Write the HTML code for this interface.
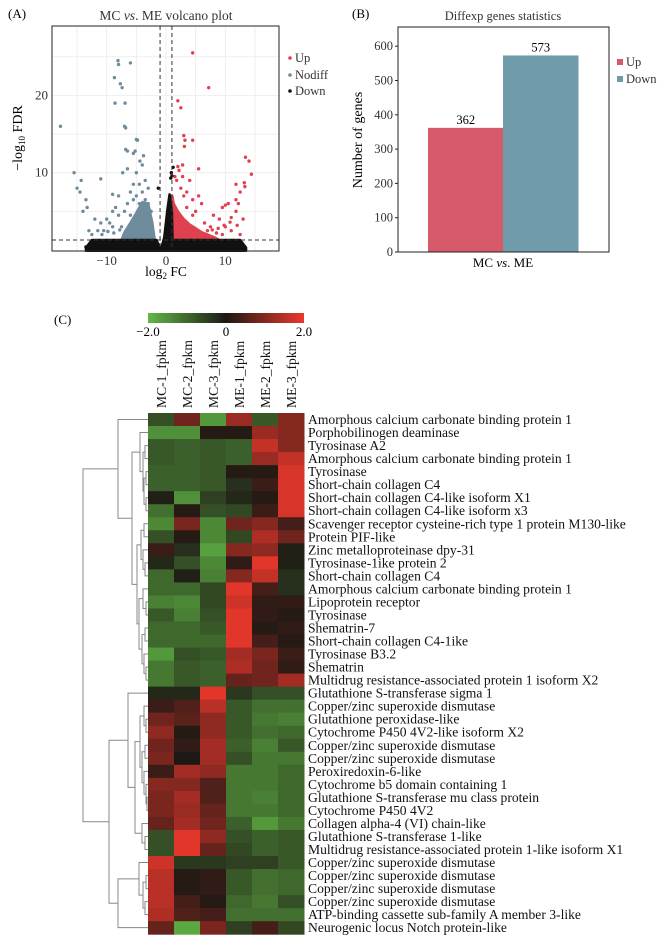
<!DOCTYPE html>
<html><head><meta charset="utf-8"><style>
html,body{margin:0;padding:0;background:#fff;}
svg{display:block;font-family:"Liberation Serif",serif;}
</style></head><body>
<svg id="fig" width="668" height="943" viewBox="0 0 668 943" xmlns="http://www.w3.org/2000/svg">
<text x="8" y="18" font-size="13">(A)</text>
<text x="352" y="18" font-size="13">(B)</text>
<text x="54" y="324" font-size="13">(C)</text>
<g id="volcano"></g>
<g id="bars"></g>
<g id="heat"></g>
</svg>
<script>
// ---------- Volcano data ----------
const upX=[4.5,7.2,2,2.5,3,4.5,3.2,3.1,5.5,2.8,2,2.2,1.5,1.8,13.4,14,14.4,13.2,13.3,11.8,12.5,11.8,12.2,9.5,10,10.5,11.8,11,13,8,9,10,6.5,7.5,5.5,6,4.5,3.5,2.5,3,7,8.5,11,12.5,9.5,6,4,2.8,3.5,5,4.5,9.8,10.8,12,8.8,7.8];
const upY=[25.5,21,19.3,18.4,14.8,14.2,14.2,13.4,10.5,11,10.8,10.3,9.5,9,12,11.5,9.8,8.7,8.2,8.5,7.5,6.5,6,5.5,5.8,6,5,4.2,4,4.5,4,3,3.5,3,7,6,6.5,7.5,8,7,2.5,2.2,2.5,2,2,2.2,9,9.5,5.5,5,4.5,3.2,3.6,3.2,2.8,2.6];
const ndX=[-17.8,-15.5,-15,-14.3,-14.5,-13.5,-14,-13.3,-11,-8.1,-8,-6,-8.7,-7.7,-7.4,-8.6,-6.9,-7,-6.8,-5,-4.8,-6.8,-6.5,-5.5,-5.2,-3.8,-6.5,-7.3,-5,-4.4,-4,-9,-8,-6,-5.5,-4.5,-3.5,-3,-12,-11,-10,-9.5,-9,-8.5,-13,-12.5,-11.5,-10.5,-9,-8,-7.5,-7,-6.5,-6,-5.5,-5,-4.5,-4,-3.5,-3,-2.5,-10.8,-9.8,-8.8,-7.8];
const ndY=[16,10,8,9,7.5,6.5,5,5.5,9.2,24.5,24,24.2,22.3,21.5,21,19,19,16,15.8,14.3,14.2,13,12.8,12.5,12.8,12.2,10.5,10,10,11.5,11,7.2,7,7.5,8.5,8.5,9,8,4,3.5,4,3.5,5,5.5,2.5,2,2.5,2.5,3,4.5,3,5,6,4.5,6.5,7,6,7.5,6.5,6,5,2,2.4,2.2,2.6];
const dnX=[1.2,1,0.8,-1.3,0.9,-13.5,13,-12.5,12.8];
const dnY=[10.7,9.6,9.3,8,10,0.4,0.3,0.8,0.9];
// dense-region envelopes
const ndEnvX=[-7.5,-7,-6,-5,-4,-3,-2.3,-1.9];
const ndEnvTop=[1.3,2.3,3.5,4.8,6.2,6.0,3.5,1.3];
const upEnvX=[1.05,1.3,2,3,4,5,6,8,9];
const upEnvTop=[7,6.0,5.0,4.0,3.3,2.8,2.3,1.7,1.3];
const dnEnvX=[-13.5,-12.5,-1.6,-0.9,-0.3,0.2,0.6,1,1.1,12.5,13.5];
const dnEnvTop=[0.3,1.3,1.3,0,1.6,5,7.2,5,1.3,1.3,0.3];
const vXTicks=[-10,0,10], vYTicks=[10,20];
const vXMinor=[-15,-5,5,15], vYMinor=[5,15,25];

const NS="http://www.w3.org/2000/svg";
function mk(tag,attrs,parent){const e=document.createElementNS(NS,tag);for(const k in attrs)e.setAttribute(k,attrs[k]);parent.appendChild(e);return e;}

(function(){
const g=document.getElementById('volcano');
const L=52,R=279,T=26,B=251;
const xs=v=>166+v*5.93, ys=v=>250-v*7.73;
let r=mk('rect',{x:L,y:T,width:R-L,height:B-T,fill:'#fff'},g);


vXMinor.concat(vXTicks).forEach(v=>{let l=mk('line',{x1:xs(v),x2:xs(v),y1:T,y2:B,stroke:'#ebebeb','stroke-width':0.8},g);});
vYMinor.concat(vYTicks).forEach(v=>{let l=mk('line',{x1:L,x2:R,y1:ys(v),y2:ys(v),stroke:'#ebebeb','stroke-width':0.8},g);});
function area(xa,ya,base,col,name){let d='M'+xs(xa[0])+','+ys(base);xa.forEach((x,i)=>d+=' L'+xs(x)+','+ys(ya[i]));d+=' L'+xs(xa[xa.length-1])+','+ys(base)+'Z';
let p=mk('path',{d:d,fill:col,stroke:col,'stroke-width':2.5,'stroke-linejoin':'round'},g);}
area(ndEnvX,ndEnvTop,1.2,'#6e8c9c','nodiff-dense-region');
area(upEnvX,upEnvTop,1.2,'#e0414f','up-dense-region');
area(dnEnvX,dnEnvTop,-0.1,'#111','down-dense-region');
function pts(xa,ya,col,name){xa.forEach((x,i)=>{let c=mk('circle',{cx:xs(x),cy:ys(ya[i]),r:1.7,fill:col},g);});}
pts(ndX,ndY,'#6e8c9c','nodiff-point');pts(upX,upY,'#e0414f','up-point');pts(dnX,dnY,'#111','down-point');
[-1,1].forEach(v=>{let l=mk('line',{x1:xs(v),x2:xs(v),y1:T,y2:B,stroke:'#333','stroke-width':1,'stroke-dasharray':'4,3'},g);});
let h=mk('line',{x1:L,x2:R,y1:ys(1.3),y2:ys(1.3),stroke:'#333','stroke-width':1,'stroke-dasharray':'4,3'},g);
let f=mk('rect',{x:L,y:T,width:R-L,height:B-T,fill:'none',stroke:'#222','stroke-width':1},g);
vXTicks.forEach(v=>{let t=mk('text',{x:xs(v),y:B+14,'font-size':13,'text-anchor':'middle',fill:'#333'},g);t.textContent=v<0?'−'+(-v):v;});
vYTicks.forEach(v=>{let t=mk('text',{x:L-4,y:ys(v)+4,'font-size':13,'text-anchor':'end',fill:'#333'},g);t.textContent=v;});
let tt=mk('text',{x:166,y:20,'font-size':13.5,'text-anchor':'middle',fill:'#333'},g);tt.innerHTML='MC <tspan font-style="italic">vs</tspan>. ME volcano plot';
let xl=mk('text',{x:166,y:276,'font-size':13.5,'text-anchor':'middle'},g);xl.innerHTML='log<tspan font-size="9" dy="3">2</tspan><tspan dy="-3"> FC</tspan>';
let yl=mk('text',{transform:'translate(22,138) rotate(-90)','font-size':14,'text-anchor':'middle'},g);yl.innerHTML='−log<tspan font-size="9" dy="3">10</tspan><tspan dy="-3"> FDR</tspan>';
[['Up','#e0414f',62],['Nodiff','#6e8c9c',79],['Down','#111',95]].forEach(e=>{let c=mk('circle',{cx:290,cy:e[2]-4,r:1.8,fill:e[1]},g);let t=mk('text',{x:295,y:e[2],'font-size':12.5,fill:'#333'},g);t.textContent=e[0];});
})();

// ---------- Bar data ----------
const barCats=['Up','Down'];
const barVals=[362,573];
const barColors=['#d75a6b','#6f9bab'];
const barTicks=[0,100,200,300,400,500,600];
(function(){
const g=document.getElementById('bars');
const L=398,R=609,T=27,B=252;
const ys=v=>252-v*0.343;
const bx=[428,503],bw=75.5;
barVals.forEach((v,i)=>{let r=mk('rect',{x:bx[i],y:ys(v),width:bw,height:B-ys(v),fill:barColors[i]},g);
let t=mk('text',{x:bx[i]+bw/2,y:ys(v)-4,'font-size':12.5,'text-anchor':'middle'},g);t.textContent=v;});
let f=mk('rect',{x:L,y:T,width:R-L,height:B-T,fill:'none',stroke:'#222','stroke-width':1},g);
barTicks.forEach(v=>{let l=mk('line',{x1:L-3,x2:L,y1:ys(v),y2:ys(v),stroke:'#222'},g);let t=mk('text',{x:L-5,y:ys(v)+4,'font-size':12.5,'text-anchor':'end',fill:'#333'},g);t.textContent=v;});
let tt=mk('text',{x:503,y:20,'font-size':12.5,'text-anchor':'middle',fill:'#333'},g);tt.textContent='Diffexp genes statistics';
let xl=mk('text',{x:503,y:267,'font-size':13,'text-anchor':'middle'},g);xl.innerHTML='MC <tspan font-style="italic">vs</tspan>. ME';
let yl=mk('text',{transform:'translate(362,140) rotate(-90)','font-size':14,'text-anchor':'middle'},g);yl.textContent='Number of genes';
barCats.forEach((c,i)=>{let r=mk('rect',{x:617,y:59+i*17,width:6,height:6,fill:barColors[i]},g);let t=mk('text',{x:626,y:66+i*17,'font-size':12.5,fill:'#333'},g);t.textContent=c;});
})();

// ---------- Heatmap data ----------
const hmCols=['MC-1_fpkm','MC-2_fpkm','MC-3_fpkm','ME-1_fpkm','ME-2_fpkm','ME-3_fpkm'];
const hmRows=['Amorphous calcium carbonate binding protein 1','Porphobilinogen deaminase','Tyrosinase A2','Amorphous calcium carbonate binding protein 1','Tyrosinase','Short-chain collagen C4','Short-chain collagen C4-like isoform X1','Short-chain collagen C4-like isoform x3','Scavenger receptor cysteine-rich type 1 protein M130-like','Protein PIF-like','Zinc metalloproteinase dpy-31','Tyrosinase-1ike protein 2','Short-chain collagen C4','Amorphous calcium carbonate binding protein 1','Lipoprotein receptor','Tyrosinase','Shematrin-7','Short-chain collagen C4-1ike','Tyrosinase B3.2','Shematrin','Multidrug resistance-associated protein 1 isoform X2','Glutathione S-transferase sigma 1','Copper/zinc superoxide dismutase','Glutathione peroxidase-like','Cytochrome P450 4V2-like isoform X2','Copper/zinc superoxide dismutase','Copper/zinc superoxide dismutase','Peroxiredoxin-6-like','Cytochrome b5 domain containing 1','Glutathione S-transferase mu class protein','Cytochrome P450 4V2','Collagen alpha-4 (VI) chain-like','Glutathione S-transferase 1-like','Multidrug resistance-associated protein 1-like isoform X1','Copper/zinc superoxide dismutase','Copper/zinc superoxide dismutase','Copper/zinc superoxide dismutase','Copper/zinc superoxide dismutase','ATP-binding cassette sub-family A member 3-like','Neurogenic locus Notch protein-like'];
const hmVals=[
[-0.7,0.8,-1.6,1.2,-0.8,1.0],[-1.5,-1.5,0.1,0.1,1.2,1.0],[-0.8,-0.9,-0.8,-0.9,1.6,1.0],[-0.8,-0.9,-0.8,-0.9,1.2,1.6],
[-0.9,-0.9,-0.8,0.1,0.1,1.8],[-0.9,-0.9,-0.8,-0.3,0.3,1.8],[-0.1,-1.5,-0.5,-0.2,0.1,1.8],[-1.1,0.1,-0.7,-0.6,0.3,1.8],
[-1.4,0.9,-1.4,0.8,1.0,0.4],[-0.7,0.1,-1.4,-0.6,1.4,0.8],[0.3,-0.3,-1.7,1.0,1.1,-0.1],[-0.2,-0.7,-1.4,0.2,1.9,-0.1],
[-1.0,-0.1,-1.3,1.0,1.6,-0.3],[-1.0,-1.0,-0.6,1.9,0.4,-0.3],[-1.3,-1.4,-0.6,1.7,0.2,0.2],[-0.8,-1.3,-0.7,1.9,0.2,0.1],
[-1.0,-1.0,-0.8,1.9,0.1,0.2],[-1.0,-1.0,-1.0,1.9,0.4,0.1],[-1.6,-0.7,-0.8,1.3,0.9,0.3],[-1.2,-0.8,-0.9,1.4,0.8,0.2],
[-1.2,-0.8,-0.9,0.7,0.8,1.3],[-0.2,-0.2,1.9,-0.4,-0.7,-0.7],[0.3,0.5,1.5,-0.8,-1.1,-1.1],[0.8,0.6,1.1,-0.8,-1.2,-1.3],
[1.1,0.1,1.1,-0.8,-1.1,-1.0],[0.8,0.2,1.3,-0.9,-1.3,-0.8],[0.9,0.0,1.3,-0.7,-1.2,-1.2],[0.3,1.3,1.1,-1.2,-1.2,-1.0],
[1.0,1.0,0.5,-1.2,-1.2,-1.0],[0.9,1.3,0.5,-1.2,-1.3,-1.0],[0.9,1.2,0.7,-1.2,-1.2,-1.0],[0.7,1.3,0.8,-0.9,-1.6,-1.2],
[-0.7,1.9,1.1,-0.7,-0.9,-0.8],[-0.7,1.9,0.7,-0.6,-0.9,-0.8],[1.7,-0.4,-0.4,-0.5,-0.5,-0.8],[1.5,0.1,0.2,-0.8,-1.1,-1.0],
[1.5,0.1,0.2,-0.8,-1.1,-1.0],[1.5,0.4,0.1,-1.0,-1.2,-0.7],[1.4,0.5,0.4,-1.1,-1.1,-1.1],[0.7,-1.8,0.9,-0.5,0.4,-0.6]];
const cbTicks=[-2,0,2];
// dendrogram: [mergeX, left, right]; leaves are row indices
const dendro=[83,
 [118,0,[132,[140,1,[143,[145,2,3],[144,[146,4,5],[146,6,7]]]],[137,[141,[144,8,9],[143,10,[145,11,12]]],[139,[143,13,[146,14,15]],[142,[145,16,17],[144,18,[146,19,20]]]]]]],
 [109,[128,21,[135,[140,[144,22,[146,23,24]],[142,[145,25,26],[144,27,[146,28,[147,29,30]]]]],[142,31,[145,32,33]]]],[118,[139,34,[143,[146,35,36],[145,37,38]]],39]]];

(function(){
const g=document.getElementById('heat');
const X0=148,CW=26,Y0=413,RH=13.03;
const colX=i=>X0+i*CW, rowY=j=>Y0+j*RH;
function col(v){const t=Math.min(1,Math.abs(v)/2);const k=[28,24,20];const e=v<0?[98,184,70]:[236,56,44];return 'rgb('+k.map((a,i)=>Math.round(a+(e[i]-a)*t)).join(',')+')';}
hmVals.forEach((row,j)=>row.forEach((v,i)=>{let r=mk('rect',{x:colX(i),y:rowY(j),width:CW+0.5,height:RH+0.5,fill:col(v)},g);}));
hmRows.forEach((n,j)=>{let t=mk('text',{x:colX(6)+4,y:rowY(j)+RH/2+4.5,'font-size':13.6,fill:'#111'},g);t.textContent=n;});
hmCols.forEach((n,i)=>{let t=mk('text',{transform:'translate('+(colX(i)+CW/2+5)+',408) rotate(-90)','font-size':13.6,fill:'#111'},g);t.textContent=n;});
// colorbar
const defs=mk('defs',{},g);const lg=mk('linearGradient',{id:'cb',x1:0,x2:1,y1:0,y2:0},defs);
[[0,col(-2)],[0.5,col(0)],[1,col(2)]].forEach(s=>mk('stop',{offset:s[0],'stop-color':s[1]},lg));
let cb=mk('rect',{x:148,y:313,width:156,height:10,fill:'url(#cb)'},g);
const cx=v=>148+(v+2)/4*156;
cbTicks.forEach(v=>{let t=mk('text',{x:cx(v),y:336,'font-size':13,'text-anchor':'middle'},g);t.textContent=v===0?'0':(v<0?'−':'')+Math.abs(v).toFixed(1);});
// dendrogram
function draw(n){if(typeof n==='number')return {x:X0,y:rowY(n)+RH/2};
const a=draw(n[1]),b=draw(n[2]);const x=n[0];
let p=mk('path',{d:'M'+a.x+','+a.y+' H'+x+' V'+b.y+' H'+b.x,fill:'none',stroke:'#888','stroke-width':1},g);
return {x:x,y:(a.y+b.y)/2};}
draw(dendro);
})();
</script>
</body></html>
